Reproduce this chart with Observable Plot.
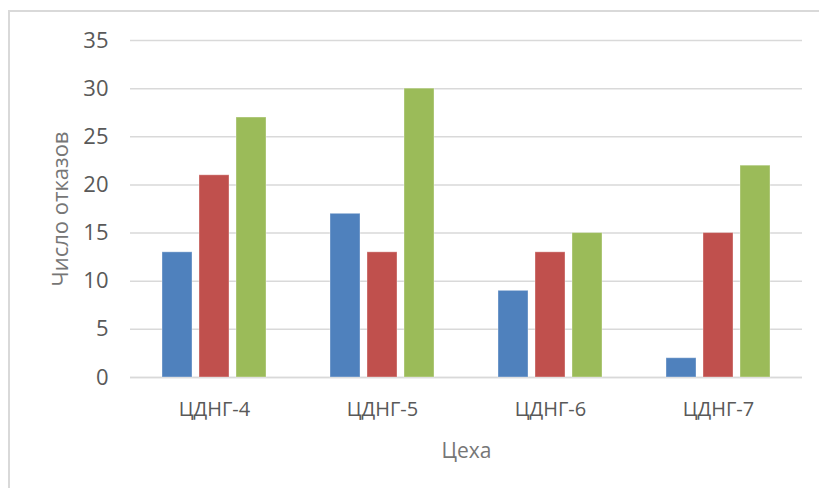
<!DOCTYPE html>
<html>
<head>
<meta charset="utf-8">
<script src="https://cdn.jsdelivr.net/npm/d3@7"></script>
<script src="https://cdn.jsdelivr.net/npm/@observablehq/plot@0.6"></script>
<style>
  html, body { margin: 0; padding: 0; background: #fff; }
  #wrap { position: relative; width: 819px; height: 488px; overflow: hidden; }
  #border { position: absolute; left: 8px; top: 10px; width: 900px; height: 600px;
            border-left: 2px solid #d9d9d9; border-top: 2px solid #d9d9d9; }
  #chart { position: absolute; left: 0; top: 0; }
</style>
</head>
<body>
<div id="wrap"><div id="border"></div><div id="chart"></div></div>
<script>
const categories = ["ЦДНГ-4", "ЦДНГ-5", "ЦДНГ-6", "ЦДНГ-7"];
const seriesNames = ["Ряд 1", "Ряд 2", "Ряд 3"];
const series1 = [13, 17, 9, 2];
const series2 = [21, 13, 13, 15];
const series3 = [27, 30, 15, 22];
const yTicks = [0, 5, 10, 15, 20, 25, 30, 35];
const colors = ["#4F81BD", "#C0504D", "#9BBB59"];

const allSeries = [series1, series2, series3];
const data = [];
categories.forEach((c, i) => {
  seriesNames.forEach((s, j) => data.push({cat: c, ser: s, value: allSeries[j][i]}));
});

const font = "'Open Sans', 'DejaVu Sans', sans-serif";

const chart = Plot.plot({
  width: 819,
  height: 488,
  marginLeft: 130,
  marginRight: 17,
  marginTop: 40,
  marginBottom: 111,
  style: {fontFamily: font, background: "transparent"},
  fx: {domain: categories, padding: 0},
  x: {domain: seriesNames, paddingInner: 0.2, paddingOuter: 0.87, axis: null},
  y: {domain: [0, 35]},
  color: {domain: seriesNames, range: colors},
  marks: [
    Plot.gridY(yTicks, {stroke: "#d9d9d9", strokeOpacity: 1, strokeWidth: 1.5}),
    Plot.ruleY([0], {stroke: "#d9d9d9", strokeWidth: 1.5}),
    Plot.barY(data, {fx: "cat", x: "ser", y: "value", fill: "ser",
                     stroke: "white", strokeOpacity: 0.35, strokeWidth: 1}),
    Plot.axisY(yTicks, {tickSize: 0, tickPadding: 22, fontSize: 22, fill: "#595959",
                        label: null}),
    Plot.axisY([], {tickSize: 0, fontSize: 22, fill: "#767676",
                    label: "Число отказов", labelAnchor: "center", labelArrow: "none",
                    labelOffset: 78}),
    Plot.axisFx({anchor: "bottom", tickSize: 0, tickPadding: 24, fontSize: 20, fill: "#595959",
                 label: null}),
    Plot.axisFx([], {anchor: "bottom", tickSize: 0, fontSize: 21, fill: "#767676",
                 label: "Цеха", labelAnchor: "center", labelArrow: "none", labelOffset: 80})
  ]
});
document.getElementById("chart").appendChild(chart);
</script>
</body>
</html>
